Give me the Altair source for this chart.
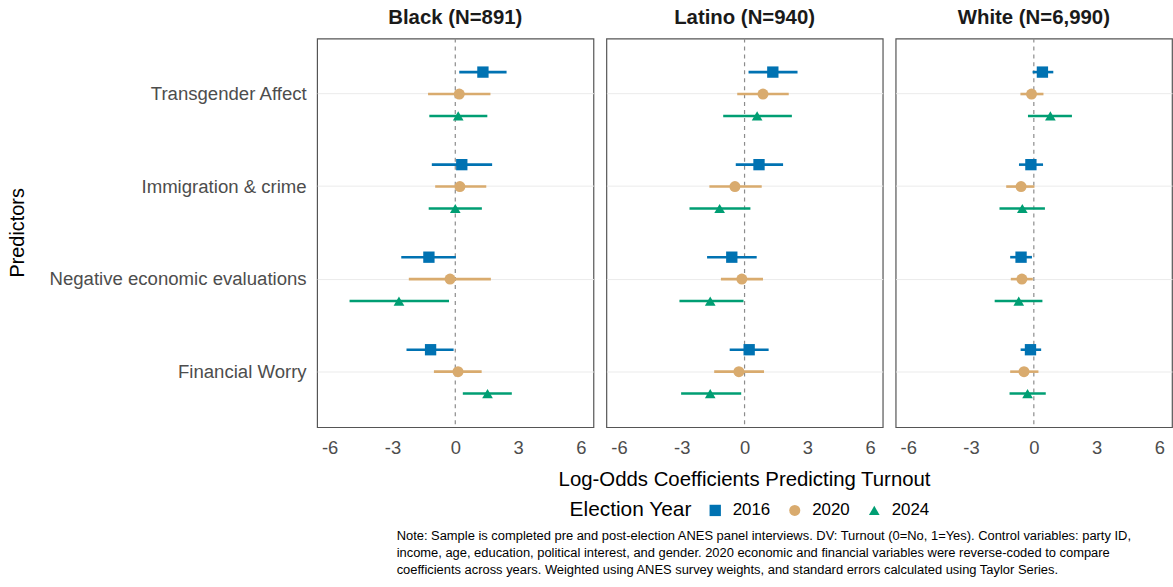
import altair as alt
import pandas as pd

groups = ["Black (N=891)", "Latino (N=940)", "White (N=6,990)"]
predictors = ["Transgender Affect", "Immigration & crime",
              "Negative economic evaluations", "Financial Worry"]
years = ["2016", "2020", "2024"]

# estimate, lower, upper per group -> predictor -> year (2016, 2020, 2024)
black_est = [[1.32, 0.19, 0.14], [0.31, 0.22, 0.00], [-1.26, -0.25, -2.69], [-1.18, 0.13, 1.54]]
black_lo = [[0.19, -1.30, -1.24], [-1.12, -0.96, -1.27], [-2.58, -2.22, -5.05], [-2.33, -1.02, 0.36]]
black_hi = [[2.45, 1.68, 1.53], [1.76, 1.48, 1.27], [0.03, 1.70, -0.30], [-0.08, 1.26, 2.70]]

latino_est = [[1.35, 0.88, 0.60], [0.69, -0.46, -1.19], [-0.61, -0.13, -1.64], [0.22, -0.27, -1.64]]
latino_lo = [[0.19, -0.35, -1.02], [-0.42, -1.68, -2.63], [-1.79, -1.13, -3.11], [-0.71, -1.45, -3.03]]
latino_hi = [[2.53, 2.11, 2.26], [1.84, 0.82, 0.28], [0.58, 0.88, -0.05], [1.15, 0.93, -0.16]]

white_est = [[0.41, -0.11, 0.79], [-0.14, -0.61, -0.55], [-0.61, -0.57, -0.72], [-0.16, -0.47, -0.30]]
white_lo = [[-0.06, -0.64, -0.28], [-0.71, -1.32, -1.64], [-1.13, -1.10, -1.87], [-0.63, -1.13, -1.16]]
white_hi = [[0.93, 0.46, 1.82], [0.44, 0.03, 0.53], [-0.09, -0.05, 0.41], [0.35, 0.22, 0.57]]

colors = ["#0072B2", "#D9AB6E", "#009E73"]
shapes = ["square", "circle", "triangle-up"]
marker_sizes = [130, 115, 230]

note_lines = [
    "Note: Sample is completed pre and post-election ANES panel interviews. DV: Turnout (0=No, 1=Yes). Control variables: party ID,",
    "income, age, education, political interest, and gender. 2020 economic and financial variables were reverse-coded to compare",
    "coefficients across years. Weighted using ANES survey weights, and standard errors calculated using Taylor Series.",
]

rows = []
for g, (E, L, H) in zip(groups, [(black_est, black_lo, black_hi),
                                 (latino_est, latino_lo, latino_hi),
                                 (white_est, white_lo, white_hi)]):
    for i, p in enumerate(predictors):
        for j, yr in enumerate(years):
            rows.append({"group": g, "predictor": p, "year": yr,
                         "estimate": E[i][j], "lower": L[i][j], "upper": H[i][j]})
df = pd.DataFrame(rows)

FONT = "Liberation Sans"

xscale = alt.Scale(domain=[-6.6, 6.6], nice=False, zero=False)
yenc = alt.Y("predictor:N", sort=predictors,
             scale=alt.Scale(paddingInner=0, paddingOuter=0.1),
             axis=alt.Axis(title="Predictors", bandPosition=0.5, grid=True,
                           gridColor="#EBEBEB", gridWidth=1, ticks=False, domain=False,
                           labelFontSize=18.7, labelColor="#4D4D4D", labelPadding=10,
                           labelLimit=500,
                           titleFontSize=20, titleFontWeight="normal", titleColor="#000000",
                           titleX=-300, titleY=195, titleAngle=270,
                           titleAlign="center", titleBaseline="middle"))
yoff = alt.YOffset("year:N", scale=alt.Scale(paddingInner=0, paddingOuter=0.61))
color = alt.Color("year:N", scale=alt.Scale(domain=years, range=colors),
                  legend=alt.Legend(title="Election Year", orient="none",
                                    legendX=254, legendY=466,
                                    direction="horizontal", titleOrient="left",
                                    titleFontSize=21, titleFontWeight="normal",
                                    titleColor="#000000", labelFontSize=17,
                                    labelColor="#000000", symbolSize=100,
                                    symbolStrokeWidth=0, columnPadding=16,
                                    labelOffset=9, titlePadding=15))
shape = alt.Shape("year:N", scale=alt.Scale(domain=years, range=shapes))
size = alt.Size("year:N", scale=alt.Scale(domain=years, range=marker_sizes), legend=None)

xaxis = alt.Axis(title=None, values=[-6, -3, 0, 3, 6],
                 labelExpr="datum.value < 0 ? '-' + abs(datum.value) : '' + datum.value",
                 grid=False, ticks=False, domain=False, labelFontSize=18.5,
                 labelColor="#4D4D4D", labelPadding=9)

base = alt.Chart(df)

zero = base.transform_filter(
    (alt.datum.predictor == predictors[0]) & (alt.datum.year == years[0])
).transform_calculate(zero="0").mark_rule(
    color="#8C8C8C", strokeDash=[4, 4], strokeWidth=1.2
).encode(x=alt.X("zero:Q", scale=xscale, axis=xaxis))

bars = base.mark_rule(strokeWidth=2.6).encode(
    x=alt.X("lower:Q", scale=xscale, axis=xaxis),
    x2="upper:Q",
    y=yenc, yOffset=yoff, color=color,
)

pts = base.mark_point(filled=True, opacity=1).encode(
    x=alt.X("estimate:Q", scale=xscale, axis=xaxis),
    y=yenc, yOffset=yoff, color=color, shape=shape, size=size,
)

chart = alt.layer(zero, bars, pts).properties(width=278, height=391).facet(
    column=alt.Column("group:N", sort=groups,
                      title="Log-Odds Coefficients Predicting Turnout",
                      header=alt.Header(labelOrient="top", titleOrient="bottom",
                                        labelFontSize=20.5, labelFontWeight="bold",
                                        labelColor="#1A1A1A", labelPadding=8,
                                        titleFontSize=20.5, titleFontWeight="normal",
                                        titleColor="#000000", titlePadding=3))
).properties(
    spacing=11,
    padding={"left": 8, "top": 6, "right": 0, "bottom": 0},
    title=alt.TitleParams(text=note_lines, orient="bottom", anchor="start",
                          align="left", dx=391, fontSize=13, fontWeight="normal",
                          color="#000000", lineHeight=17.5, offset=10, font=FONT),
).configure(font=FONT).configure_view(stroke="#555555", strokeWidth=1.2)

chart.save("out.html", embed_options={"renderer": "svg", "actions": False})
